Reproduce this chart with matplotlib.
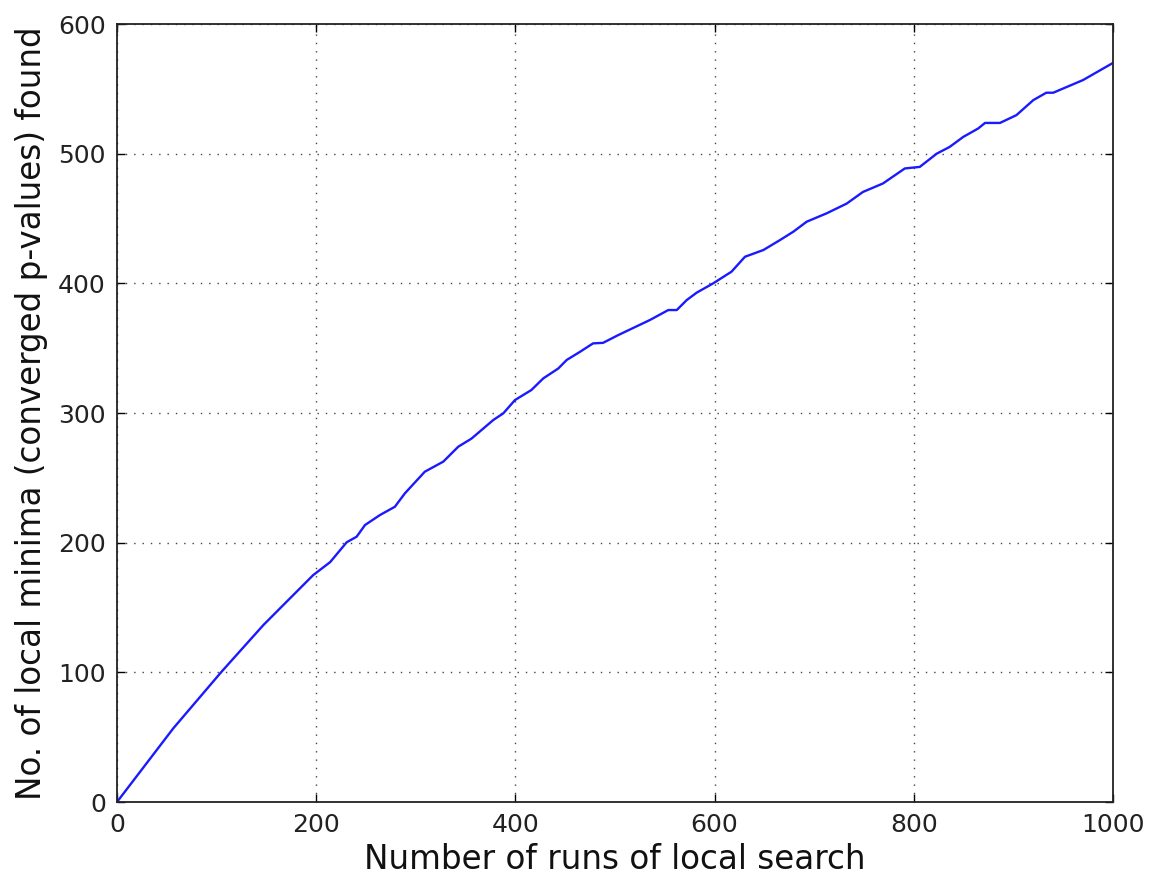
import matplotlib
matplotlib.use("Agg")
import matplotlib.pyplot as plt

runs = [0, 56.5, 105, 147, 173.6, 197, 214, 230.6, 240.6, 249, 264, 279, 289, 309,
        327.6, 342.6, 356, 377.8, 387.8, 399.6, 416, 428, 443, 451.5, 464.9, 478,
        488, 503, 535, 553.5, 562, 572, 582, 598.6, 617, 630.5, 649, 665.7, 679,
        692.4, 712.5, 732.6, 749, 769, 791, 806, 823, 836, 849.6, 864.6, 871.5,
        886.5, 903, 920, 933, 940, 970, 1000]
minima = [0, 56.8, 100.5, 136.5, 157, 175, 185, 200.3, 204.6, 213.6, 221.3, 227.7,
          238, 254.7, 262.5, 274, 280.3, 294.6, 299.7, 310, 317.7, 326.7, 334.3,
          340.9, 347.2, 353.7, 354.1, 360, 371.7, 379.4, 379.4, 387.1, 392.8, 400,
          409, 420.5, 425.7, 433.4, 439.8, 447.5, 454, 461.5, 470.5, 477, 488.6,
          489.8, 500, 505.2, 512.9, 519.4, 523.7, 523.7, 529.7, 541.3, 547, 547,
          556.8, 570]

xticks = [0, 200, 400, 600, 800, 1000]
yticks = [0, 100, 200, 300, 400, 500, 600]

fig = plt.figure(figsize=(11.53, 8.8), dpi=100, facecolor="white")
ax = fig.add_axes([117/1153, 1-802/880, (1113-117)/1153, (802-24)/880])
ax.plot(runs, minima, color="#1a1aff", lw=1.7)
ax.set_xlim(0, 1000)
ax.set_ylim(0, 600)
ax.set_xticks(xticks)
ax.set_yticks(yticks)
ax.tick_params(direction="in", top=True, right=True, length=6, width=1,
               labelsize=18, pad=8, labelcolor="#222222")
ax.grid(True, linestyle=(0, (1, 5)), color="#444444", linewidth=1)
for s in ax.spines.values():
    s.set_linewidth(1.3)
    s.set_color("#222222")
ax.set_xlabel("Number of runs of local search", fontsize=23.5, color="#111111")
ax.set_ylabel("No. of local minima (converged p-values) found", fontsize=23.5,
              color="#111111", labelpad=7)
fig.savefig("out.png", dpi=100, facecolor="white")
